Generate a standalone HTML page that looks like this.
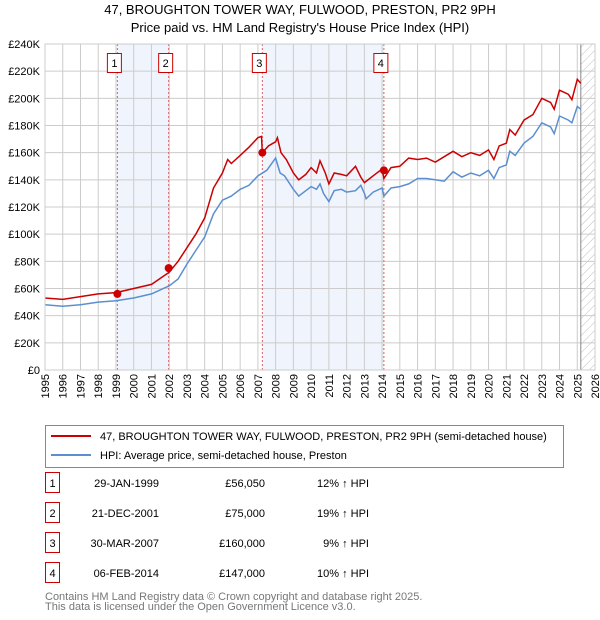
<!DOCTYPE html>
<html><head><meta charset="utf-8"><style>
body{margin:0;background:#fff;font-family:"Liberation Sans","DejaVu Sans",sans-serif;}
svg{display:block}
</style></head><body>
<svg id="c" width="600" height="620" xmlns="http://www.w3.org/2000/svg">
<text x="300" y="14" text-anchor="middle" font-size="13" fill="#000">47, BROUGHTON TOWER WAY, FULWOOD, PRESTON, PR2 9PH</text>
<text x="300" y="32" text-anchor="middle" font-size="13" fill="#000">Price paid vs. HM Land Registry's House Price Index (HPI)</text>
<g id="plot"></g>
<g>
<rect x="45.5" y="425.5" width="518" height="42" fill="#fff" stroke="#888"/>
<line x1="51" y1="436" x2="91" y2="436" stroke="#cc0000" stroke-width="2"/>
<text x="100" y="440" font-size="11">47, BROUGHTON TOWER WAY, FULWOOD, PRESTON, PR2 9PH (semi-detached house)</text>
<line x1="51" y1="455" x2="91" y2="455" stroke="#5b8fd0" stroke-width="2"/>
<text x="100" y="459" font-size="11">HPI: Average price, semi-detached house, Preston</text>
</g>
<g id="tbl" font-size="11"></g>
<text x="45" y="600" font-size="11" fill="#777">Contains HM Land Registry data © Crown copyright and database right 2025.</text>
<text x="45" y="610" font-size="11" fill="#777">This data is licensed under the Open Government Licence v3.0.</text>
</svg>
<script>
const hpiT=[1995,1996,1997,1998,1999,2000,2001,2002,2002.5,2003,2003.5,2004,2004.5,2005,2005.5,2006,2006.5,2007,2007.5,2008,2008.25,2008.5,2009,2009.3,2009.7,2010,2010.3,2010.5,2010.7,2011,2011.3,2011.7,2012,2012.5,2012.8,2013,2013.1,2013.5,2014,2014.1,2014.5,2015,2015.5,2016,2016.5,2017,2017.5,2018,2018.5,2019,2019.5,2020,2020.3,2020.6,2021,2021.2,2021.5,2022,2022.5,2023,2023.5,2023.7,2024,2024.5,2024.7,2025,2025.2];
const hpiV=[48,47,48,50,51,53,56,62,67,78,88,98,115,125,128,133,136,143,147,156,145,143,133,128,132,135,133,137,130,124,132,133,131,132,136,130,126,131,134,128,134,135,137,141,141,140,139,146,142,145,143,147,141,149,151,161,158,167,172,182,179,174,187,184,182,194,192];
const priceT=[1995,1996,1997,1998,1999,2000,2001,2002,2002.5,2003,2003.5,2004,2004.5,2005,2005.3,2005.5,2006,2006.5,2007,2007.2,2007.25,2007.6,2008,2008.1,2008.3,2008.6,2009,2009.3,2009.7,2010,2010.3,2010.5,2010.8,2011,2011.3,2011.7,2012,2012.5,2012.8,2013,2013.5,2014,2014.1,2014.5,2015,2015.5,2016,2016.5,2017,2017.5,2018,2018.5,2019,2019.5,2020,2020.3,2020.6,2021,2021.2,2021.5,2022,2022.5,2023,2023.5,2023.7,2024,2024.5,2024.7,2025,2025.2];
const priceV=[53,52,54,56,57,60,63,72,80,90,100,112,134,145,155,152,158,164,171,172,160,165,168,171,160,155,145,140,144,149,145,154,145,137,145,144,143,150,142,138,143,148,141,149,150,156,155,156,153,157,161,157,160,158,162,155,165,167,177,173,184,188,200,197,192,206,203,199,214,211];
const saleT=[1999.08,2001.97,2007.25,2014.1];
const saleV=[56.05,75,160,147];
const saleLabels=["1","2","3","4"];
const saleDates=["29-JAN-1999","21-DEC-2001","30-MAR-2007","06-FEB-2014"];
const salePrices=["£56,050","£75,000","£160,000","£147,000"];
const saleDiff=["12% ↑ HPI","19% ↑ HPI","9% ↑ HPI","10% ↑ HPI"];
const yTicks=[0,20,40,60,80,100,120,140,160,180,200,220,240];
const ns="http://www.w3.org/2000/svg";
const X0=45,X1=595,Y0=370,Y1=44,T0=1995,T1=2026;
const x=t=>X0+(t-T0)*(X1-X0)/(T1-T0);
const y=v=>Y0-v*(Y0-Y1)/240;
const P=document.getElementById('plot');
function mk(tag,a,par){const e=document.createElementNS(ns,tag);for(const k in a)e.setAttribute(k,a[k]);(par||P).appendChild(e);return e;}
for(const [a,b] of [[0,1],[2,3]]){const r=mk('rect',{x:x(saleT[a]),y:Y1,width:x(saleT[b])-x(saleT[a]),height:Y0-Y1,fill:'#f0f4fc'});

}
const defs=mk('defs',{});
const pat=mk('pattern',{id:'h',width:6,height:6,patternUnits:'userSpaceOnUse',patternTransform:'rotate(45)'},defs);
mk('line',{x1:0,y1:0,x2:0,y2:6,stroke:'#bbb','stroke-width':1},pat);
const hr=mk('rect',{x:x(2025.2),y:Y1,width:X1-x(2025.2),height:Y0-Y1,fill:'url(#h)'});


for(let t=T0;t<=T1;t++){mk('line',{x1:x(t),x2:x(t),y1:Y1,y2:Y0,stroke:'#ccc','stroke-width':1});
const tx=mk('text',{x:0,y:0,'font-size':11,'text-anchor':'end',transform:`translate(${x(t)+4},${Y0+4}) rotate(-90)`});tx.textContent=t;

}
for(const v of yTicks){mk('line',{x1:X0,x2:X1,y1:y(v),y2:y(v),stroke:'#ccc','stroke-width':1});
const tx=mk('text',{x:X0-5,y:y(v)+4,'font-size':11,'text-anchor':'end'});tx.textContent='£'+v+(v?'K':'');

}
mk('line',{x1:x(2025.2),x2:x(2025.2),y1:Y1,y2:Y0,stroke:'#888','stroke-width':1});
saleT.forEach((t,i)=>{mk('line',{x1:x(t),x2:x(t),y1:Y1,y2:Y0,stroke:'#e06060','stroke-width':1,'stroke-dasharray':'2,2'});});
function line(T,V,col,name){const p=mk('path',{d:T.map((t,i)=>(i?'L':'M')+x(t).toFixed(1)+','+y(V[i]).toFixed(1)).join(''),fill:'none',stroke:col,'stroke-width':1.5});

}
line(hpiT,hpiV,'#5b8fd0','hpi-line');
line(priceT,priceV,'#cc0000','price-line');
saleT.forEach((t,i)=>{const c=mk('circle',{cx:x(t),cy:y(saleV[i]),r:4,fill:'#cc0000'});


const g=mk('g',{});


mk('rect',{x:x(t)-10,y:53.5,width:14,height:19,fill:'#fff',stroke:'#cc0000'},g);
const tx=mk('text',{x:x(t)-3,y:67,'font-size':11,'text-anchor':'middle'},g);tx.textContent=saleLabels[i];});
mk('rect',{x:X0,y:Y1,width:X1-X0,height:Y0-Y1,fill:'none',stroke:'#ccc'});
const TB=document.getElementById('tbl');
saleT.forEach((t,i)=>{const yy=483+i*30;
const g=mk('g',{},TB);


mk('rect',{x:45.5,y:yy-10.5,width:14,height:20,fill:'#fff',stroke:'#cc0000'},g);
const a=mk('text',{x:52.5,y:yy+4,'text-anchor':'middle'},g);a.textContent=saleLabels[i];
const b=mk('text',{x:159,y:yy+4,'text-anchor':'end'},g);b.textContent=saleDates[i];
const c=mk('text',{x:265,y:yy+4,'text-anchor':'end'},g);c.textContent=salePrices[i];
const d=mk('text',{x:369,y:yy+4,'text-anchor':'end'},g);d.textContent=saleDiff[i];});
</script>
</body></html>
